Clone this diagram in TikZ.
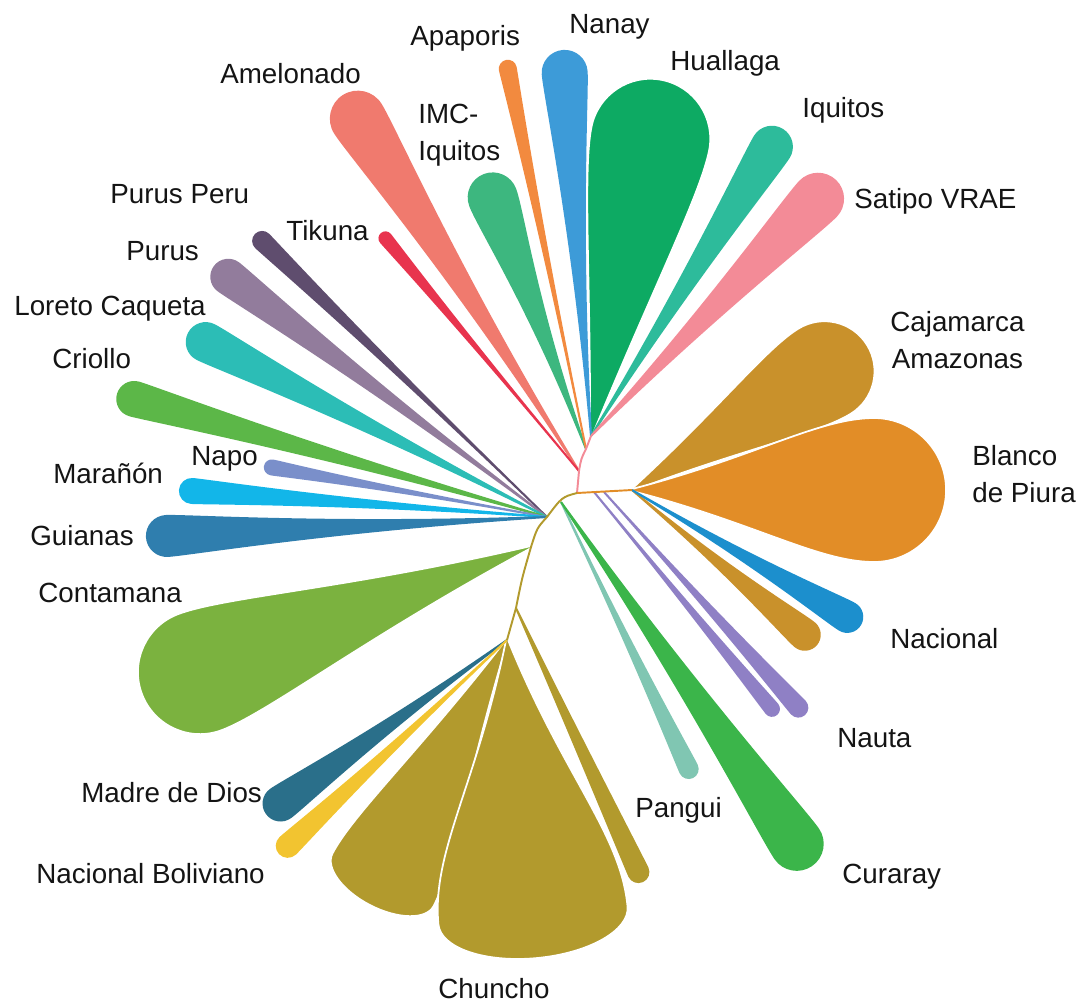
\documentclass[tikz,border=0pt]{standalone}
\usepackage{fontspec}
\setmainfont{Liberation Sans}
\usetikzlibrary{positioning, calc}
\definecolor{cAmel}{HTML}{F07A6E}
\definecolor{cTiku}{HTML}{E8344E}
\definecolor{cImc}{HTML}{3DB77F}
\definecolor{cApap}{HTML}{F28A3F}
\definecolor{cNana}{HTML}{3D9BD8}
\definecolor{cHual}{HTML}{0DAA63}
\definecolor{cIqui}{HTML}{2DBB9B}
\definecolor{cSati}{HTML}{F38B97}
\definecolor{cCaja}{HTML}{C9912B}
\definecolor{cBlan}{HTML}{E28D27}
\definecolor{cNaci}{HTML}{1C8FCD}
\definecolor{cNaut}{HTML}{8F80C5}
\definecolor{cPang}{HTML}{80C6B2}
\definecolor{cCura}{HTML}{3BB54A}
\definecolor{cChun}{HTML}{B29A2D}
\definecolor{cBoli}{HTML}{F2C430}
\definecolor{cMadr}{HTML}{2A6F8A}
\definecolor{cCont}{HTML}{7BB23F}
\definecolor{cGuia}{HTML}{2F7EAE}
\definecolor{cMara}{HTML}{12B6E9}
\definecolor{cNapo}{HTML}{7A8FCA}
\definecolor{cCrio}{HTML}{5CB748}
\definecolor{cLore}{HTML}{2CBDB6}
\definecolor{cPuru}{HTML}{927C9C}
\definecolor{cPupe}{HTML}{5F4D6E}
\definecolor{txt}{HTML}{141414}

% teardrop leaf: [end flatness]{style}{base node}{tip x,y}{half width}{fatness}
\newcommand{\leaf}[6][1]{%
  \path (#3); \pgfgetlastxy{\leafbx}{\leafby}%
  \path (#4); \pgfgetlastxy{\leaftx}{\leafty}%
  \pgfmathsetmacro{\leafang}{atan2(\leafty-\leafby,\leaftx-\leafbx)}%
  \pgfmathsetmacro{\leaflen}{veclen(\leaftx-\leafbx,\leafty-\leafby)/0.569055}%
  \pgfmathsetmacro{\leafmid}{\leaflen-#1*#5}%
  \pgfmathsetmacro{\leafca}{(0.6-0.2*#6)*\leafmid}%
  \pgfmathsetmacro{\leafcb}{\leafmid-(1-0.5*#6)*#5}%
  \begin{scope}[shift={(\leafbx,\leafby)}, rotate=\leafang, x=0.02cm, y=0.02cm]
    \path[#2] (0,1) .. controls (\leafca,{1+#6*(#5-1)}) and (\leafcb,#5) .. (\leafmid,#5)
      arc[start angle=90, end angle=-90, x radius={#1*#5}, y radius=#5]
      .. controls (\leafcb,-#5) and (\leafca,{-1-#6*(#5-1)}) .. (0,-1) -- cycle;
  \end{scope}}

\begin{document}
\begin{tikzpicture}[x=0.02cm, y=-0.02cm,
    lbl/.style={anchor=base west, inner sep=0pt, text=txt, font=\fontsize{15.8}{21}\selectfont},
    stem/.style={line width=1.1pt},
    sep/.style={draw=white, line width=1pt}]
    \useasboundingbox (0,0) rectangle (1078,1005);

    % Branch points
    \coordinate (root) at (577,493);
    \coordinate (upA) at (579,471);
    \coordinate (upB) at (586,449);
    \coordinate (upC) at (591,436);
    \coordinate (right) at (632,490);
    \coordinate (nauA) at (594,492);
    \coordinate (nauB) at (604,492);
    \coordinate (pan) at (561,502);
    \coordinate (midL) at (547,517);
    \coordinate (lowF) at (531,547);
    \coordinate (lowG) at (516,608);
    \coordinate (lowH) at (507,640);

    % Wide leaves first
    \leaf{fill=cHual, sep}{upC}{662,80}{60}{0.5}
    \leaf{fill=cCaja, sep}{right}{867,345}{50}{0.45}
    \leaf{fill=cBlan, sep}{right}{946,490}{72}{0.45}
    \leaf{fill=cCont, sep}{lowF}{142,694}{62}{0.4}
    \leaf[0.5]{fill=cChun, sep}{lowH}{370,905}{57}{0.45}
    \leaf[0.45]{fill=cChun, sep}{lowH}{537,958}{95}{0.45}
    \leaf{fill=cChun}{lowG}{643,882}{11}{0.4}

    % Upper leaves
    \leaf{fill=cAmel}{upA}{343,95}{28}{0.15}
    \leaf{fill=cTiku}{upA}{381,233}{7}{0}
    \leaf{fill=cImc}{upB}{484,174}{25}{0.15}
    \leaf{fill=cApap}{upB}{506,60}{9}{0}
    \leaf{fill=cNana}{upC}{563,50}{23}{0.15}
    \leaf{fill=cIqui}{upC}{783,129}{21}{0.2}
    \leaf{fill=cSati}{upC}{836,180}{26}{0.25}

    % Right leaves
    \leaf{fill=cCaja}{right}{817,645}{16}{0.1}
    \leaf{fill=cNaci}{right}{861,625}{16}{0.1}
    \leaf{fill=cNaut}{nauA}{777,715}{8}{0.1}
    \leaf{fill=cNaut}{nauB}{805,715}{10}{0.1}
    \leaf{fill=cPang}{pan}{693,778}{10}{0.1}
    \leaf{fill=cCura}{pan}{812,866}{27}{0.2}

    % Left leaves
    \leaf{fill=cPupe}{midL}{255,234}{10}{0}
    \leaf{fill=cPuru}{midL}{214,266}{18}{0.1}
    \leaf{fill=cLore}{midL}{188,333}{20}{0.15}
    \leaf{fill=cCrio}{midL}{117,394}{18}{0.15}
    \leaf{fill=cNapo}{midL}{264,466}{8}{0}
    \leaf{fill=cMara}{midL}{179,490}{13}{0.1}
    \leaf{fill=cGuia}{midL}{146,537}{21}{0.15}

    % Lower leaves
    \leaf{fill=cMadr}{lowH}{266,814}{18}{0.15}
    \leaf{fill=cBoli}{lowH}{279,854}{12}{0.1}

    % Branches
    \draw[stem, draw=cSati] (root) -- (upA) .. controls (581,459) .. (upB) -- (upC);
    \draw[stem, draw=cBlan] (root) -- (right);
    \draw[stem, draw=cChun] (root) .. controls (562,497) .. (midL)
        .. controls (537,528) .. (lowF) .. controls (522,578) .. (lowG) -- (lowH);

    % Labels
    \node[lbl] (amelonado) at (220,83) {Amelonado};
    \node[lbl] (apaporis) at (410,45) {Apaporis};
    \node[lbl] (nanay) at (569,33) {Nanay};
    \node[lbl] (huallaga) at (670,70) {Huallaga};
    \node[lbl, align=left] (imc) at (418,160) {IMC-\\Iquitos};
    \node[lbl] (iquitos) at (802,117) {Iquitos};
    \node[lbl] (satipo) at (854,208) {Satipo VRAE};
    \node[lbl] (purusperu) at (110,203) {Purus Peru};
    \node[lbl] (tikuna) at (286,240) {Tikuna};
    \node[lbl] (purus) at (126,260) {Purus};
    \node[lbl] (loreto) at (14,315) {Loreto Caqueta};
    \node[lbl] (criollo) at (52,368) {Criollo};
    \node[lbl, align=center] (cajamarca) at (890,368) {Cajamarca\\Amazonas};
    \node[lbl, align=left] (blanco) at (972,502) {Blanco\\de Piura};
    \node[lbl] (napo) at (191,465) {Napo};
    \node[lbl] (maranon) at (53,483) {Marañón};
    \node[lbl] (guianas) at (30,545) {Guianas};
    \node[lbl] (contamana) at (38,602) {Contamana};
    \node[lbl] (nacional) at (890,648) {Nacional};
    \node[lbl] (nauta) at (837,747) {Nauta};
    \node[lbl] (pangui) at (635,817) {Pangui};
    \node[lbl] (curaray) at (842,883) {Curaray};
    \node[lbl] (madre) at (81,802) {Madre de Dios};
    \node[lbl] (boliviano) at (36,883) {Nacional Boliviano};
    \node[lbl] (chuncho) at (438,998) {Chuncho};
\end{tikzpicture}
\end{document}
